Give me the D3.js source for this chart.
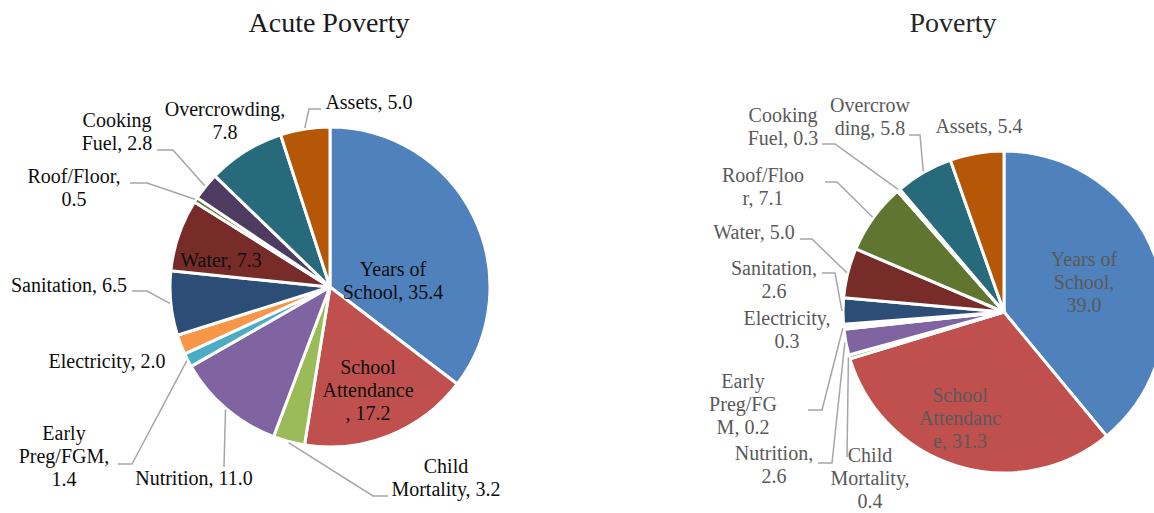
<!DOCTYPE html>
<html>
<head>
<meta charset="utf-8">
<script src="https://cdn.jsdelivr.net/npm/d3@7/dist/d3.min.js"></script>
<style>
  html, body { margin: 0; padding: 0; background: #ffffff; }
  svg { display: block; overflow: hidden; }
  text { font-family: "Liberation Serif", "Times New Roman", serif; }
</style>
</head>
<body>
<svg id="chart" width="1154" height="513"></svg>
<script>
// ---- data -------------------------------------------------------------
const categories = [
  "Years of School", "School Attendance", "Child Mortality", "Nutrition",
  "Early Preg/FGM", "Electricity", "Sanitation", "Water",
  "Roof/Floor", "Cooking Fuel", "Overcrowding", "Assets"
];
// percentage contribution of each indicator
const acuteValues      = [35.4, 17.2, 3.2, 11.0, 1.4, 2.0, 6.5, 7.3, 0.5, 2.8, 7.8, 5.0];
const capabilityValues = [39.0, 31.3, 0.4, 2.6, 0.2, 0.3, 2.6, 5.0, 7.1, 0.3, 5.8, 5.4];

const chartTitles = ["Acute Poverty", "Poverty"];

// ---- styling ----------------------------------------------------------
const sliceColors = [
  "#4F81BD", "#C0504D", "#9BBB59", "#8064A2", "#4BACC6", "#F79646",
  "#2C4D75", "#772C2A", "#5F7530", "#4D3B62", "#276A7C", "#B65708"
];

// label placement: centre x, first baseline y, wrap points, leader start/elbow
const acuteLabelLayout = [
  { x: 393, y: 276, breaks: [9] },
  { x: 368, y: 374, breaks: [7, 17] },
  { x: 446, y: 473, breaks: [6], leader: [[388, 496], [373, 496]] },
  { x: 194, y: 485, breaks: [], leader: [[224, 467]] },
  { x: 64,  y: 440, breaks: [6, 15], leader: [[118, 464], [132, 464]] },
  { x: 107, y: 368, breaks: [] },
  { x: 69,  y: 292, breaks: [], leader: [[132, 291], [147, 291]] },
  { x: 221, y: 267, breaks: [] },
  { x: 74,  y: 183, breaks: [11], leader: [[130, 183], [147, 183]] },
  { x: 117, y: 127, breaks: [8], leader: [[157, 150], [173, 150]] },
  { x: 225, y: 116, breaks: [13] },
  { x: 369, y: 109, breaks: [], leader: [[321, 109], [309, 109]] }
];
const capabilityLabelLayout = [
  { x: 1084, y: 266, breaks: [9, 16] },
  { x: 960,  y: 402, breaks: [7, 16] },
  { x: 870,  y: 462, breaks: [6, 16], leader: [[847, 457]] },
  { x: 774,  y: 460, breaks: [10], leader: [[818, 463], [832, 463]] },
  { x: 743,  y: 388, breaks: [6, 13], leader: [[808, 410], [822, 410]] },
  { x: 787,  y: 325, breaks: [12] },
  { x: 774,  y: 275, breaks: [11], leader: [[822, 273], [835, 273]] },
  { x: 754,  y: 239, breaks: [], leader: [[800, 239], [812, 239]] },
  { x: 763,  y: 182, breaks: [9], leader: [[825, 182], [837, 182]] },
  { x: 783,  y: 122, breaks: [8], leader: [[822, 144], [835, 144]] },
  { x: 870,  y: 112, breaks: [8], leader: [[909, 135], [920, 135]] },
  { x: 979,  y: 133, breaks: [] }
];

const charts = [
  { values: acuteValues, layout: acuteLabelLayout, cx: 330, cy: 287, r: 160,
    title: chartTitles[0], titleX: 329, titleColor: "#1a1a1a", textColor: "#0d0d0d" },
  { values: capabilityValues, layout: capabilityLabelLayout, cx: 1004, cy: 312, r: 161,
    title: chartTitles[1], titleX: 953, titleColor: "#262626", textColor: "#595959" }
];

const svg = d3.select("#chart");
const lineHeight = 23;

function splitLabel(str, breaks) {
  const lines = [];
  let prev = 0;
  breaks.forEach(b => { lines.push(str.slice(prev, b).trim()); prev = b; });
  lines.push(str.slice(prev).trim());
  return lines;
}

const pie = d3.pie().sort(null).value(d => d);
const lineGen = d3.line();

charts.forEach(chart => {
  const arcs = pie(chart.values);
  const arc = d3.arc().innerRadius(0).outerRadius(chart.r);
  const g = svg.append("g");

  // title
  g.append("text")
    .attr("x", chart.titleX).attr("y", 32)
    .attr("text-anchor", "middle")
    .attr("font-size", 28)
    .attr("fill", chart.titleColor)
    .text(chart.title);

  const pieG = g.append("g").attr("transform", `translate(${chart.cx},${chart.cy})`);
  pieG.selectAll("path.slice")
    .data(arcs)
    .join("path")
    .attr("class", "slice")
    .attr("d", arc)
    .attr("fill", (d, i) => sliceColors[i])
    .attr("stroke", "#ffffff")
    .attr("stroke-width", 3)
    .attr("stroke-linejoin", "round");

  // leader lines from label to the middle of each slice's outer edge
  arcs.forEach((a, i) => {
    const spec = chart.layout[i];
    if (!spec.leader) return;
    const mid = (a.startAngle + a.endAngle) / 2;
    const edge = [chart.cx + (chart.r + 1) * Math.sin(mid), chart.cy - (chart.r + 1) * Math.cos(mid)];
    g.append("path")
      .attr("d", lineGen([...spec.leader, edge]))
      .attr("fill", "none")
      .attr("stroke", "#A6A6A6")
      .attr("stroke-width", 1.5);
  });

  // data labels: "Category, value"
  arcs.forEach((a, i) => {
    const spec = chart.layout[i];
    const label = `${categories[i]}, ${a.data.toFixed(1)}`;
    const lines = splitLabel(label, spec.breaks);
    const t = g.append("text")
      .attr("text-anchor", "middle")
      .attr("font-size", 20)
      .attr("fill", chart.textColor);
    lines.forEach((ln, k) => {
      t.append("tspan").attr("x", spec.x).attr("y", spec.y + k * lineHeight).text(ln);
    });
  });
});
</script>
</body>
</html>
